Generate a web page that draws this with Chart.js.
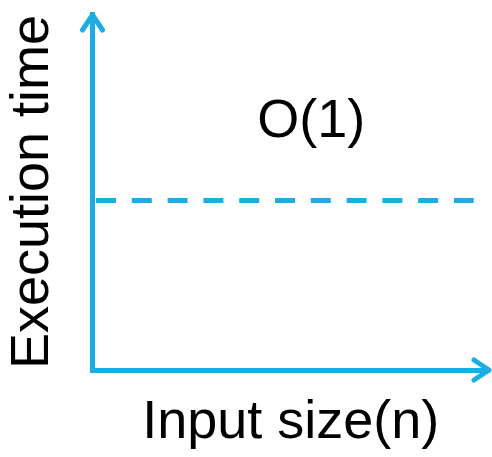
<!DOCTYPE html>
<html>
<head>
<meta charset="utf-8">
<script src="https://cdn.jsdelivr.net/npm/chart.js@4/dist/chart.umd.min.js"></script>
<style>
  html, body { margin: 0; padding: 0; background: #fff; }
  #wrap { width: 492px; height: 457px; }
</style>
</head>
<body>
<div id="wrap"><canvas id="complexityChart" width="492" height="457"></canvas></div>
<script>
// constant-time curve: execution time does not change with input size
const inputSizes = [0, 10]
const executionTimes = [5, 5]
const curveLabel = 'O(1)'
const labelPosition = [5.74, 7.3] // data coords of the O(1) note
const xTitle = 'Input size(n)'
const yTitle = 'Execution time'

const blue = '#1CADE4'
const fontFamily = "'Liberation Sans', Arial, sans-serif"

// open arrowheads at the end of both axes + the O(1) note
const axisArrows = {
  id: 'axisArrows',
  afterDraw(chart) {
    const { ctx, chartArea, scales } = chart
    const left = 92.5
    const bottom = 370
    ctx.save()
    ctx.strokeStyle = blue
    ctx.fillStyle = blue
    ctx.lineWidth = 5
    ctx.lineCap = 'round'
    ctx.lineJoin = 'round'
    // fill the corner where the two borders meet
    ctx.fillRect(left - 2.5, bottom - 2.5, 5, 5)
    // y axis arrow
    ctx.beginPath()
    ctx.moveTo(left - 10, chartArea.top + 16)
    ctx.lineTo(left, chartArea.top + 1)
    ctx.lineTo(left + 10, chartArea.top + 16)
    ctx.stroke()
    // x axis arrow
    ctx.beginPath()
    ctx.moveTo(chartArea.right - 15, bottom - 10)
    ctx.lineTo(chartArea.right, bottom)
    ctx.lineTo(chartArea.right - 15, bottom + 10)
    ctx.stroke()

    ctx.fillStyle = '#000'
    ctx.font = '54px ' + fontFamily
    ctx.textAlign = 'center'
    ctx.textBaseline = 'middle'
    ctx.fillText(
      curveLabel,
      scales.x.getPixelForValue(labelPosition[0]),
      scales.y.getPixelForValue(labelPosition[1])
    )
    ctx.restore()
  }
}

new Chart(document.getElementById('complexityChart'), {
  type: 'line',
  data: {
    datasets: [
      {
        label: curveLabel,
        data: inputSizes.map((x, i) => ({ x: x, y: executionTimes[i] })),
        borderColor: blue,
        borderWidth: 5,
        borderDash: [20, 15.8],
        borderDashOffset: -3.5,
        pointRadius: 0,
        fill: false
      }
    ]
  },
  options: {
    responsive: false,
    animation: false,
    events: [],
    layout: { padding: { top: 14, right: 3, left: 0, bottom: 0 } },
    plugins: {
      legend: { display: false },
      tooltip: { enabled: false }
    },
    scales: {
      x: {
        type: 'linear',
        min: 0,
        max: 10.4,
        grid: { display: false, drawTicks: false },
        ticks: { display: false },
        border: { display: true, color: blue, width: 5 },
        title: {
          display: true,
          text: xTitle,
          color: '#000',
          font: { family: fontFamily, size: 54, lineHeight: 1 },
          padding: { top: 26, bottom: 7 }
        }
      },
      y: {
        type: 'linear',
        min: 0,
        max: 10.5,
        grid: { display: false, drawTicks: false },
        ticks: { display: false },
        border: { display: true, color: blue, width: 5 },
        title: {
          display: true,
          text: yTitle,
          color: '#000',
          font: { family: fontFamily, size: 54, lineHeight: 1 },
          padding: { top: 6, bottom: 32.5 }
        }
      }
    }
  },
  plugins: [axisArrows]
})
</script>
</body>
</html>
